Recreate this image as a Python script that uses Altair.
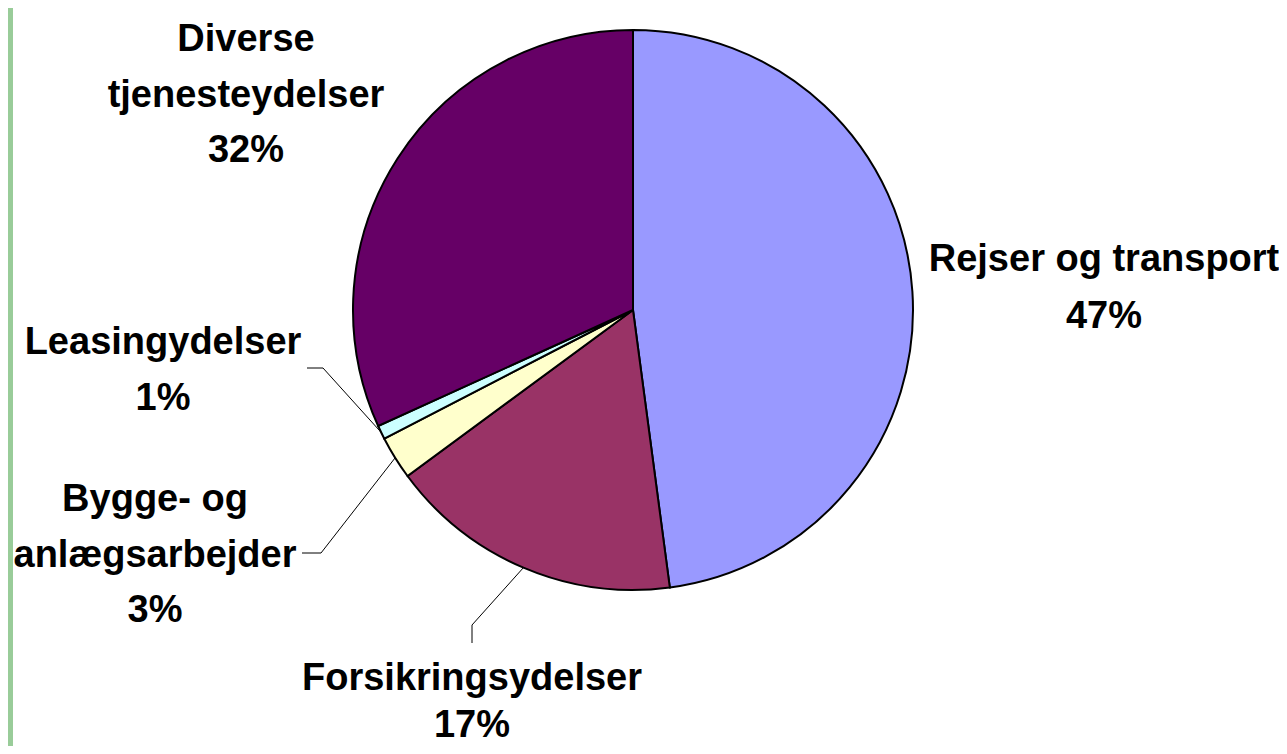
import math
import altair as alt
import pandas as pd

# ---- data ----
categories = [
    "Rejser og transport",
    "Forsikringsydelser",
    "Bygge- og anlægsarbejder",
    "Leasingydelser",
    "Diverse tjenesteydelser",
]
values = [47.9, 17.0, 2.5, 0.8, 31.8]
pct_labels = ["47%", "17%", "3%", "1%", "32%"]
label_lines = [
    ["Rejser og transport"],
    ["Forsikringsydelser"],
    ["Bygge- og", "anlægsarbejder"],
    ["Leasingydelser"],
    ["Diverse", "tjenesteydelser"],
]
colors = ["#9999FF", "#993366", "#FFFFCC", "#CCFFFF", "#660066"]

# ---- layout (pixels) ----
W, H = 1271, 738
CX, CY, R = 625, 302, 280
label_pos = [(1096, 263), (464, 682), (147, 503), (155, 346), (238, 43)]
line_heights = [57, 47, 55.5, 56, 55.5]
leader_elbows = {
    1: [(464, 635), (464, 617)],
    2: [(294, 545), (313, 545)],
    3: [(299, 360), (315, 360)],
}

pie_df = pd.DataFrame({"category": categories, "value": values, "idx": range(len(values))})

total = sum(values)
rows = []
cum = 0.0
for i, v in enumerate(values):
    mid = (cum + v / 2) / total
    cum += v
    if i in leader_elbows:
        th = 2 * math.pi * mid
        pts = leader_elbows[i] + [(CX + R * math.sin(th), CY - R * math.cos(th))]
        for k, (px, py) in enumerate(pts):
            rows.append({"leader": i, "k": k, "px": px, "py": py})
lead_df = pd.DataFrame(rows)

green_df = pd.DataFrame({"x0": [0], "x1": [5], "y0": [0], "y1": [H]})

pie = alt.Chart(pie_df).mark_arc(outerRadius=R, stroke="black", strokeWidth=2).encode(
    theta=alt.Theta("value:Q", stack=True),
    color=alt.Color("category:N", scale=alt.Scale(domain=categories, range=colors), legend=None),
    order=alt.Order("idx:Q"),
    x=alt.value(CX),
    y=alt.value(CY),
)

leaders = alt.Chart(lead_df).mark_line(color="black", strokeWidth=1).encode(
    x=alt.X("px:Q", scale=None, axis=None),
    y=alt.Y("py:Q", scale=None, axis=None),
    detail="leader:N",
    order="k:Q",
)

label_layers = []
for lines, pct, (lx, ly), lh in zip(label_lines, pct_labels, label_pos, line_heights):
    df = pd.DataFrame({"text": ["\n".join(lines + [pct])], "lx": [lx], "ly": [ly]})
    label_layers.append(
        alt.Chart(df).mark_text(
            font="Liberation Sans", fontWeight="bold", fontSize=38, lineBreak="\n",
            lineHeight=lh, align="center", baseline="alphabetic", color="black",
        ).encode(
            x=alt.X("lx:Q", scale=None, axis=None),
            y=alt.Y("ly:Q", scale=None, axis=None),
            text="text:N",
        )
    )

green = alt.Chart(green_df).mark_rect(color="#99CC99").encode(
    x=alt.X("x0:Q", scale=None, axis=None),
    x2="x1:Q",
    y=alt.Y("y0:Q", scale=None, axis=None),
    y2="y1:Q",
)

chart = alt.layer(green, leaders, pie, *label_layers).properties(
    width=W, height=H,
    autosize=alt.AutoSizeParams(type="fit", contains="padding"),
    padding=0,
    background="white",
).configure_view(stroke=None)

chart.save("out.html", embed_options={"renderer": "svg", "actions": False})
